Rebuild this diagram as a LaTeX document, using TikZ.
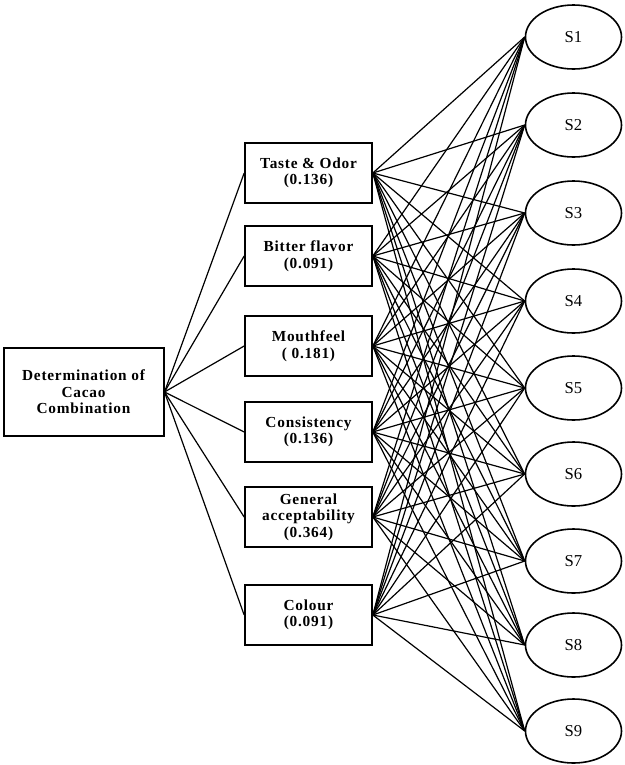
\documentclass[tikz,border=0pt]{standalone}
\usepackage{fontspec}
\setmainfont{Liberation Serif}
\newfontfamily\boxfont[LetterSpace=5]{Liberation Serif}
\usetikzlibrary{shapes.geometric}

\tikzset{
  critbox/.style={draw, line width=1.5pt, minimum width=95pt, minimum height=45pt,
    align=center, inner sep=1pt, font=\boxfont\bfseries\fontsize{11.5}{12.4}\selectfont},
  altnode/.style={ellipse, draw, line width=1.2pt, minimum width=72pt,
    minimum height=48pt, inner sep=0pt, font=\fontsize{12.5}{14}\selectfont},
  link/.style={line width=0.9pt}
}

\begin{document}
\begin{tikzpicture}[x=0.75pt, y=-0.75pt]
    % --- parameters (pixel units) ---
    \def\critX{308.5}    % centre of the criteria column
    \def\altX{573.5}     % centre of the alternatives column
    \useasboundingbox (0,0) rectangle (625,765);

    % --- goal ---
    \node[critbox, minimum width=120pt, minimum height=66pt] (goal) at (83.5,392)
        {Determination of\\Cacao\\Combination};

    % --- criteria with weights ---
    \node[critbox] (c1) at (\critX,173) {Taste \& Odor\\(0.136)};
    \node[critbox] (c2) at (\critX,256) {Bitter flavor\\(0.091)};
    \node[critbox] (c3) at (\critX,346) {Mouthfeel\\( 0.181)};
    \node[critbox] (c4) at (\critX,432) {Consistency\\(0.136)};
    \node[critbox] (c5) at (\critX,517) {General\\acceptability\\(0.364)};
    \node[critbox] (c6) at (\critX,615) {Colour\\(0.091)};

    % --- alternatives S1 ... S9 ---
    \foreach \i/\y in {1/37,2/125,3/213,4/301,5/388,6/474,7/561,8/645,9/731}
        \node[altnode] (s\i) at (\altX,\y) {S\i};

    % --- goal to criteria ---
    \foreach \c in {1,...,6}
        \draw[link] (goal.east) -- (c\c.west);

    % --- every criterion to every alternative ---
    \foreach \c in {1,...,6}
        \foreach \i in {1,...,9}
            \draw[link] (c\c.east) -- (s\i.west);

\end{tikzpicture}
\end{document}
